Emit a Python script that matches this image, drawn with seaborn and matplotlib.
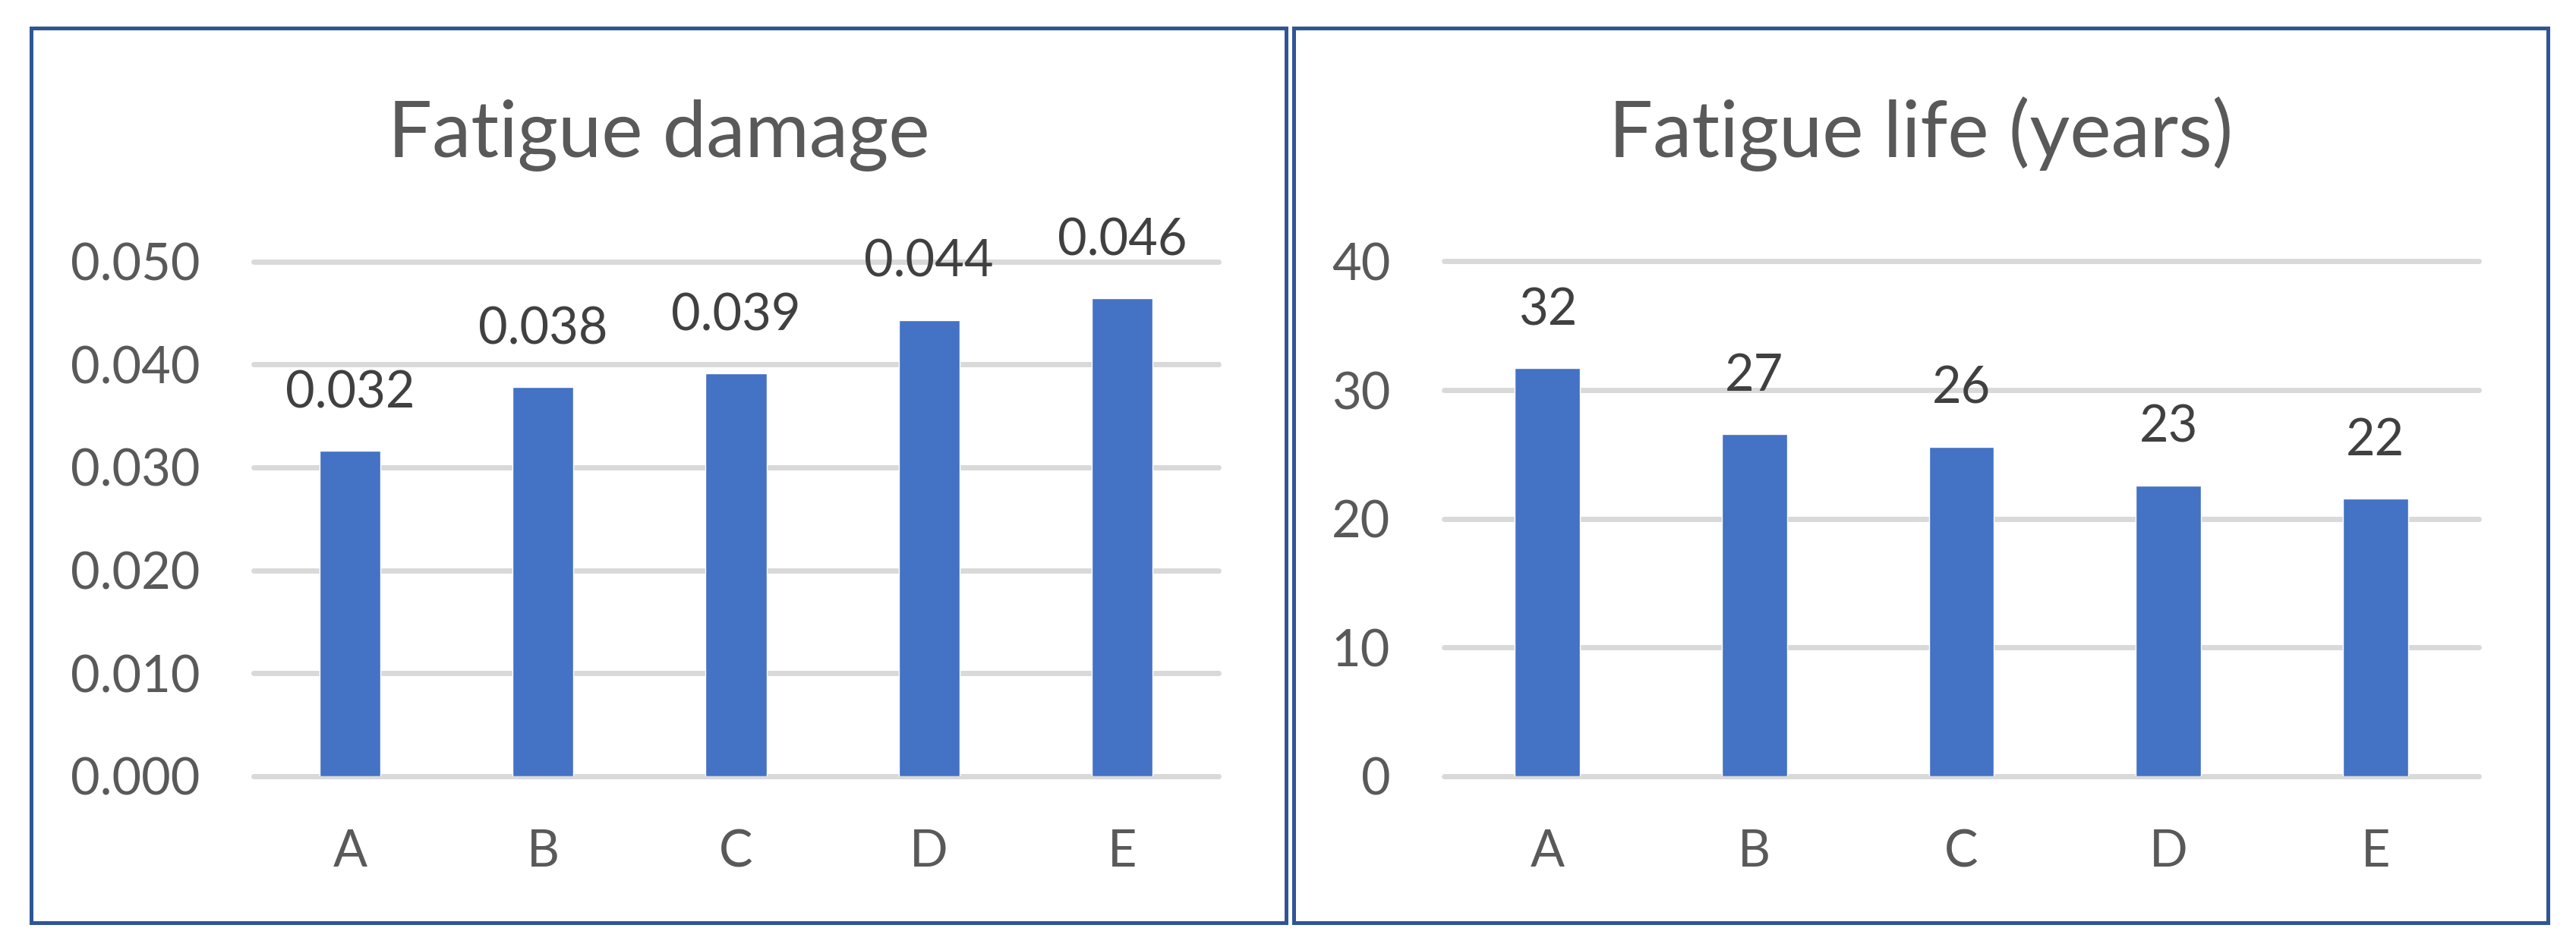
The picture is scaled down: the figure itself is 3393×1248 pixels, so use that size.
# Fatigue damage / fatigue life side-by-side bar panels

import pandas as pd
import matplotlib.pyplot as plt
import seaborn as sns
from matplotlib.patches import Rectangle

# chart data
categories = ['A', 'B', 'C', 'D', 'E']
damage = [0.0316, 0.0378, 0.0391, 0.0443, 0.0464]
life_years = [31.7, 26.6, 25.6, 22.6, 21.6]
damage_ticks = [0.000, 0.010, 0.020, 0.030, 0.040, 0.050]
life_ticks = [0, 10, 20, 30, 40]

BAR = '#4472C4'
GRID = '#D9D9D9'
TXT = '#595959'
LBL = '#404040'
BORDER = '#2F5597'

sns.set_theme(style="white")
plt.rcParams['font.family'] = ['Lato', 'DejaVu Sans']

W, H = 3393, 1248
fig = plt.figure(figsize=(W / 100, H / 100), dpi=100)


def px_axes(x0, x1, ytop, ybot):
    # place an axes using pixel coordinates of the reference
    return fig.add_axes([x0 / W, 1 - ybot / H, (x1 - x0) / W, (ybot - ytop) / H])


def draw_panel(ax, values, ticks, fmt, title, box):
    df = pd.DataFrame({'cat': categories, 'val': values})
    sns.barplot(data=df, x='cat', y='val', color=BAR, saturation=1,
                width=0.315, ax=ax, zorder=2)
    ax.set_xlim(-0.5, len(categories) - 0.5)
    ax.set_ylim(ticks[0], ticks[-1])
    ax.set_yticks(ticks)
    ax.set_yticklabels([fmt.format(t) for t in ticks])
    ax.set_xlabel('')
    ax.set_ylabel('')
    ax.grid(axis='y', color=GRID, linewidth=5)
    ax.grid(axis='x', visible=False)
    ax.set_axisbelow(True)
    for s in ax.spines.values():
        s.set_visible(False)
    ax.tick_params(axis='y', length=0, labelsize=48, labelcolor=TXT, pad=51)
    ax.tick_params(axis='x', length=0, labelsize=48, labelcolor=TXT, pad=50)
    for line in ax.get_ygridlines():
        line.set_clip_on(False)

    # data labels above each bar
    for i, v in enumerate(values):
        ax.annotate(fmt.format(v), (i, v), xytext=(0, 41), textcoords='offset points',
                    ha='center', va='baseline', fontsize=48, color=LBL)

    # panel frame and title
    x0, x1, y0, y1 = box
    fig.patches.append(Rectangle((x0 / W, 1 - y1 / H), (x1 - x0) / W, (y1 - y0) / H,
                                 transform=fig.transFigure, fill=False,
                                 edgecolor=BORDER, linewidth=3.6))
    fig.text((x0 + x1) / 2 / W, 1 - 207 / H, title, ha='center', va='baseline',
             fontsize=74, color=TXT)


ax1 = px_axes(334, 1605, 344.5, 1023)
ax2 = px_axes(1902, 3265, 344.5, 1023)

draw_panel(ax1, damage, damage_ticks, '{:.3f}', 'Fatigue damage', (41, 1694, 36.5, 1216))
draw_panel(ax2, life_years, life_ticks, '{:.0f}', 'Fatigue life (years)', (1704, 3356, 36.5, 1216))

fig.savefig('out.png', dpi=100)
